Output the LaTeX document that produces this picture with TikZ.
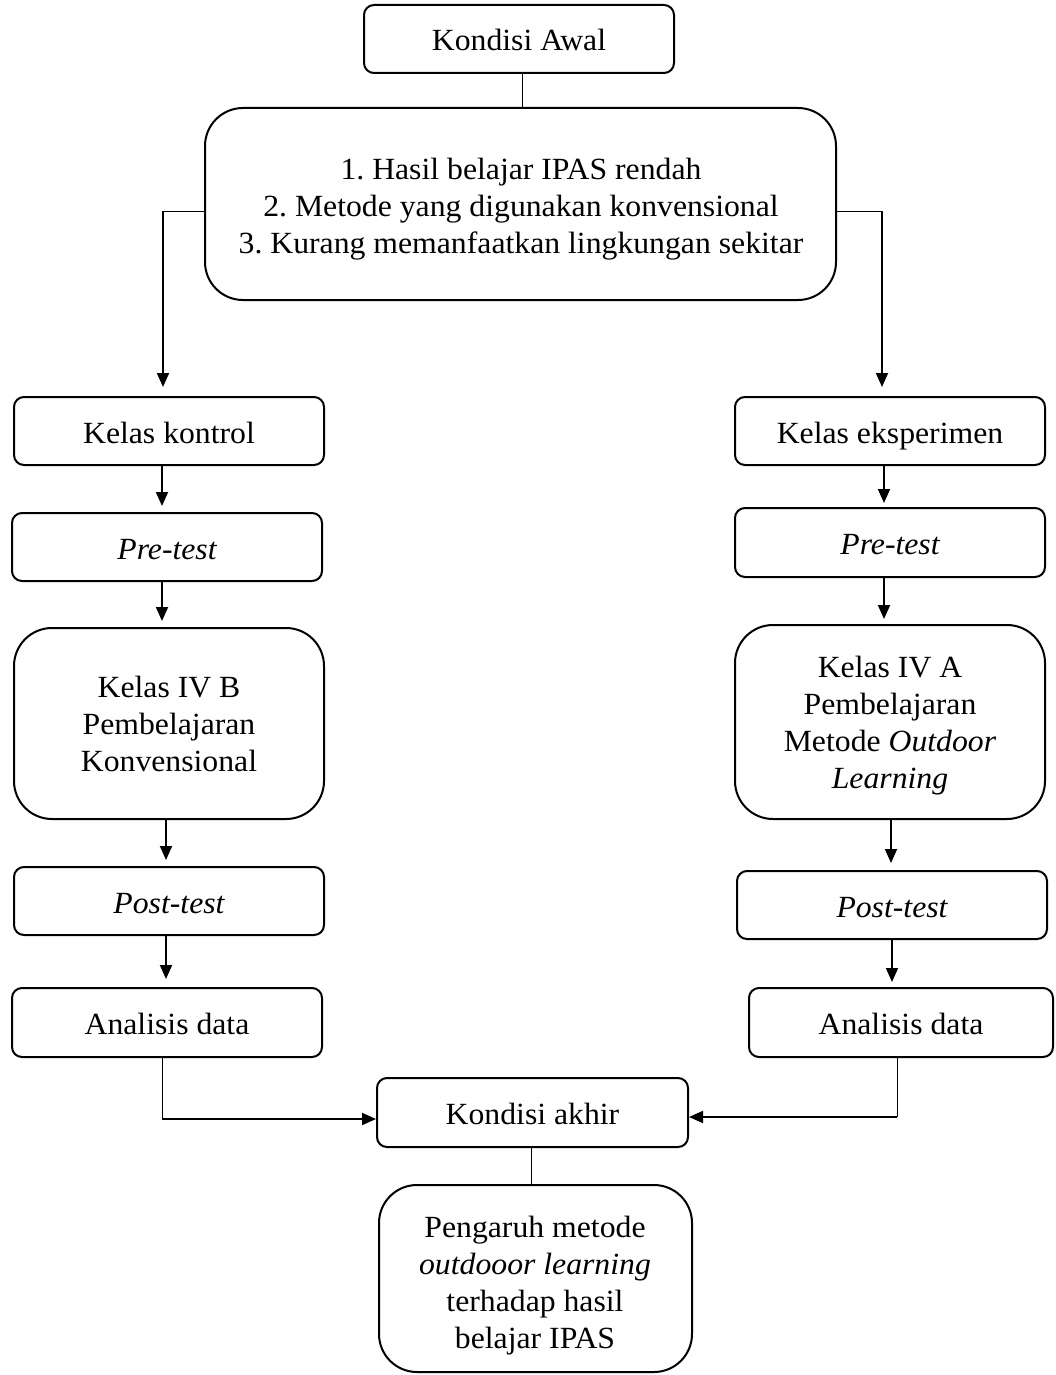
\documentclass[tikz,border=0pt]{standalone}
\usepackage{fontspec}
\setmainfont{Liberation Serif}[FakeStretch=1.03]
\usetikzlibrary{arrows.meta}
\newcommand\fsz{\fontsize{30.8}{37}\selectfont\frenchspacing}
\begin{document}
\begin{tikzpicture}[x=1pt,y=-1pt,
  box/.style={draw, line width=2pt, rounded corners=10pt, inner sep=0pt, align=center, font=\fsz, text height=30pt, text depth=6pt},
  bigbox/.style={draw, line width=2pt, rounded corners=38pt, inner sep=0pt},
  txt/.style={inner sep=0pt, align=center, font=\fsz, anchor=base},
  arr/.style={line width=1.9pt, -{Triangle[length=14pt,width=12pt]}},
  thinline/.style={line width=1pt}]
\useasboundingbox (0,0) rectangle (1055,1375);
\fill[white] (0,0) rectangle (1055,1375);

\node[box, minimum width=310, minimum height=68] (ka) at (519,39) {Kondisi Awal};
\node[bigbox, minimum width=631, minimum height=192] (big) at (520.5,204) {};
\node[txt] (bigt) at (521,253)
  {1. Hasil belajar IPAS rendah\\2. Metode yang digunakan konvensional\\3. Kurang memanfaatkan lingkungan sekitar};

\node[box, minimum width=310, minimum height=68] (kk) at (169,431) {Kelas kontrol};
\node[box, minimum width=310, minimum height=68] (pl) at (167,547) {\itshape Pre-test};
\node[bigbox, minimum width=310, minimum height=191] (kb) at (169,723.5) {};
\node[txt] (kbt) at (169,771) {Kelas IV B\\Pembelajaran\\Konvensional};
\node[box, minimum width=310, minimum height=68] (ql) at (169,901) {\itshape Post-test};
\node[box, minimum width=310, minimum height=69] (al) at (167,1022.5) {Analisis data};

\node[box, minimum width=310, minimum height=68] (ke) at (890,431) {Kelas eksperimen};
\node[box, minimum width=310, minimum height=69] (pr) at (890,542.5) {\itshape Pre-test};
\node[bigbox, minimum width=310, minimum height=194] (ka4) at (890,722) {};
\node[txt] (ka4t) at (890,788) {Kelas IV A\\Pembelajaran\\Metode \textit{Outdoor}\\\textit{Learning}};
\node[box, minimum width=310, minimum height=68] (qr) at (892,905) {\itshape Post-test};
\node[box, minimum width=304, minimum height=69] (ar) at (901,1022.5) {Analisis data};

\node[box, minimum width=311, minimum height=69] (kak) at (532.5,1112.5) {Kondisi akhir};
\node[bigbox, minimum width=313, minimum height=187] (pe) at (535.5,1278.5) {};
\node[txt] (pet) at (535,1348) {Pengaruh metode\\\textit{outdooor learning}\\terhadap hasil\\belajar IPAS};

% top
\draw[thinline] ([xshift=3pt]ka.south) -- ([xshift=3pt]ka.south |- big.north);
\coordinate (bl) at (163,211);
\coordinate (br) at (882,211);
\draw[thinline] (bl -| big.west) -- (bl);
\draw[arr, shorten >=9pt] (bl) -- (bl |- kk.north);
\draw[thinline] (br -| big.east) -- (br);
\draw[arr, shorten >=9pt] (br) -- (br |- ke.north);

% left column
\draw[arr, shorten >=6pt] ([xshift=-7pt]kk.south) -- ([xshift=-7pt]kk.south |- pl.north);
\draw[arr, shorten >=6pt] ([xshift=-5pt]pl.south) -- ([xshift=-5pt]pl.south |- kb.north);
\draw[arr, shorten >=6pt] ([xshift=-3pt]kb.south) -- ([xshift=-3pt]kb.south |- ql.north);
\draw[arr, shorten >=8pt] ([xshift=-3pt]ql.south) -- ([xshift=-3pt]ql.south |- al.north);

% right column
\draw[arr, shorten >=4pt] ([xshift=-6pt]ke.south) -- ([xshift=-6pt]ke.south |- pr.north);
\draw[arr, shorten >=5pt] ([xshift=-6pt]pr.south) -- ([xshift=-6pt]pr.south |- ka4.north);
\draw[arr, shorten >=7pt] ([xshift=1pt]ka4.south) -- ([xshift=1pt]ka4.south |- qr.north);
\draw[arr, shorten >=5pt] (qr.south) -- (qr.south |- ar.north);

% bottom
\coordinate (cl) at (162,1119);
\coordinate (cr) at (897,1117);
\draw[thinline] (cl |- al.south) -- (cl);
\draw[arr] (cl) -- (cl -| kak.west);
\draw[thinline] (cr |- ar.south) -- (cr);
\draw[arr] (cr) -- (cr -| kak.east);
\draw[thinline] ([xshift=-1pt]kak.south) -- ([xshift=-1pt]kak.south |- pe.north);
\end{tikzpicture}
\end{document}
